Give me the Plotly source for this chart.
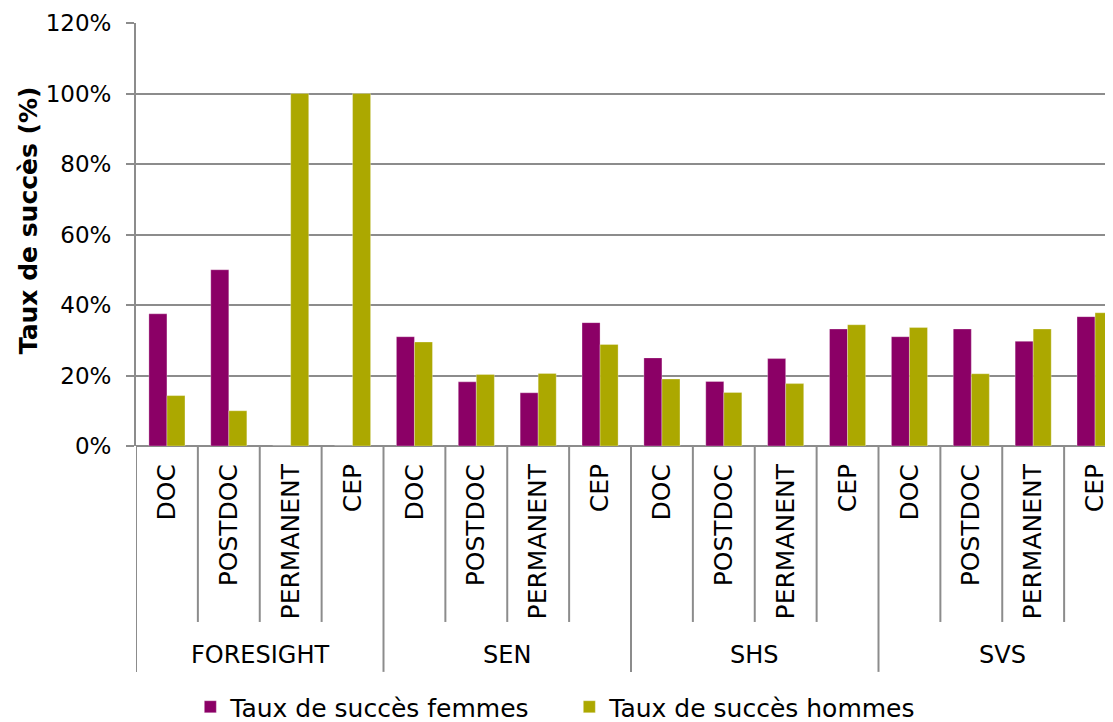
import plotly.graph_objects as go

groups = ["FORESIGHT", "SEN", "SHS", "SVS"]
roles = ["DOC", "POSTDOC", "PERMANENT", "CEP"]
femmes = [0.375, 0.50, 0.0, 0.0,
          0.31, 0.182, 0.151, 0.35,
          0.25, 0.183, 0.248, 0.332,
          0.31, 0.332, 0.297, 0.367]
hommes = [0.143, 0.10, 1.0, 1.0,
          0.295, 0.203, 0.206, 0.288,
          0.19, 0.152, 0.177, 0.344,
          0.336, 0.205, 0.332, 0.378]
y_ticks = [0, 0.2, 0.4, 0.6, 0.8, 1.0, 1.2]

labels = [r for g in groups for r in roles]
xpos = list(range(len(labels)))

FONT = "DejaVu Sans"
GRAY = "#8c8c8c"

fig = go.Figure()
fig.add_trace(go.Bar(x=xpos, y=femmes, name="Taux de succès femmes",
                     marker=dict(color="#8b0066", line=dict(color="rgba(255,255,255,0.5)", width=0.6))))
fig.add_trace(go.Bar(x=xpos, y=hommes, name="Taux de succès hommes",
                     marker=dict(color="#aca800", line=dict(color="rgba(255,255,255,0.5)", width=0.6))))

shapes = []
n_in = len(roles)
for k in range(len(labels)):
    b = k - 0.5
    outer = (k % n_in == 0)
    shapes.append(dict(type="line", xref="x", yref="paper", x0=b, x1=b,
                       y0=0, y1=(-0.534 if outer else -0.416),
                       line=dict(color=GRAY, width=2)))

annotations = []
for gi, g in enumerate(groups):
    annotations.append(dict(x=gi * n_in + (n_in - 1) / 2, y=-0.494, xref="x", yref="paper",
                            text=g, showarrow=False, xanchor="center", yanchor="middle",
                            font=dict(family=FONT, size=24, color="#000")))
annotations.append(dict(x=-0.1105, y=0.534, xref="paper", yref="paper",
                        text="<b>Taux de succès (%)</b>", textangle=-90, showarrow=False,
                        xanchor="center", yanchor="middle",
                        font=dict(family=FONT, size=25, color="#000")))

fig.update_layout(
    width=1105, height=714,
    margin=dict(l=128, r=0, t=15, b=276),
    paper_bgcolor="white", plot_bgcolor="white",
    barmode="group", bargap=0.417, bargroupgap=0,
    font=dict(family=FONT, size=24, color="#000"),
    showlegend=True,
    legend=dict(orientation="h", xref="container", yref="container",
                x=0.165, y=0.021, xanchor="left", yanchor="middle",
                font=dict(family=FONT, size=25, color="#000"),
                itemwidth=30, tracegroupgap=0, entrywidth=334, entrywidthmode="pixels"),
    shapes=shapes, annotations=annotations,
    xaxis=dict(range=[-0.5, 15.29], tickmode="array", tickvals=xpos, ticktext=labels,
               tickangle=-90, ticks="", showgrid=False, zeroline=False,
               showline=False, tickfont=dict(family=FONT, size=25, color="#000"),
               ticklabelstandoff=12),
    yaxis=dict(range=[0, 1.2], tickmode="array", tickvals=y_ticks,
               tickformat=".0%", showgrid=True, gridcolor=GRAY, gridwidth=2,
               zeroline=True, zerolinecolor=GRAY, zerolinewidth=2,
               showline=True, linecolor=GRAY, linewidth=2,
               ticks="outside", ticklen=8, tickcolor=GRAY, tickwidth=2,
               tickfont=dict(family=FONT, size=23, color="#000"),
               ticklabelstandoff=10),
)

fig.write_html("out.html")
